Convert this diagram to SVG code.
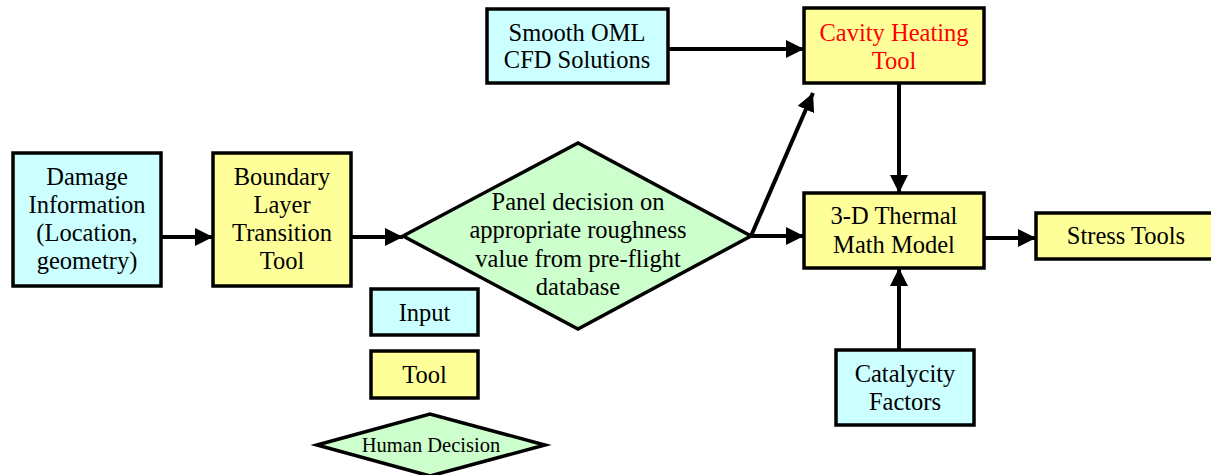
<svg xmlns="http://www.w3.org/2000/svg" width="1211" height="475" viewBox="0 0 1211 475">
<style>
.in{fill:#CCFFFF;stroke:#000;stroke-width:3.5}
.tl{fill:#FFFF99;stroke:#000;stroke-width:3.5}
.dc{fill:#CCFFCC;stroke:#000;stroke-width:3.5;stroke-linejoin:miter}
text{font-family:"Liberation Serif","Times New Roman",serif;font-size:24.5px;fill:#000;text-anchor:middle}
.red{fill:#FF0000}
.sm{font-size:20.5px}
.c{fill:none;stroke:#000;stroke-width:4;marker-end:url(#ah)}
</style>
<defs>
<marker id="ah" markerUnits="userSpaceOnUse" markerWidth="19" markerHeight="19" refX="18" refY="9" orient="auto">
<path d="M0,0 L18,9 L0,18 z" fill="#000"/>
</marker>
</defs>
<g id="connectors">
<line class="c" x1="162" y1="237" x2="213" y2="237"/>
<line class="c" x1="351" y1="237" x2="403" y2="237"/>
<line class="c" x1="751" y1="236" x2="804" y2="236"/>
<line class="c" x1="751" y1="236" x2="813" y2="93"/>
<line class="c" x1="668" y1="49" x2="804" y2="49"/>
<line class="c" x1="899" y1="83" x2="899" y2="193"/>
<line class="c" x1="984" y1="238" x2="1036" y2="238"/>
<line class="c" x1="899" y1="350" x2="899" y2="268"/>
</g>
<g id="damage">
<rect class="in" x="13" y="153" width="148" height="133"/>
<text x="87" y="185">Damage</text>
<text x="87" y="213">Information</text>
<text x="87" y="241">(Location,</text>
<text x="87" y="269">geometry)</text>
</g>
<g id="boundary">
<rect class="tl" x="213" y="153" width="138" height="133"/>
<text x="282" y="185">Boundary</text>
<text x="282" y="213">Layer</text>
<text x="282" y="241">Transition</text>
<text x="282" y="269">Tool</text>
</g>
<g id="panel">
<polygon class="dc" points="403,236 578,143 751,236 578,329"/>
<text x="578" y="210">Panel decision on</text>
<text x="578" y="238">appropriate roughness</text>
<text x="578" y="267">value from pre-flight</text>
<text x="578" y="295">database</text>
</g>
<g id="smooth">
<rect class="in" x="487" y="9" width="181" height="74"/>
<text x="577" y="41">Smooth OML</text>
<text x="577" y="68">CFD Solutions</text>
</g>
<g id="cavity">
<rect class="tl" x="804" y="8" width="180" height="75"/>
<text class="red" x="894" y="41">Cavity Heating</text>
<text class="red" x="894" y="69">Tool</text>
</g>
<g id="thermal">
<rect class="tl" x="804" y="193" width="180" height="75"/>
<text x="894" y="224">3-D Thermal</text>
<text x="894" y="253">Math Model</text>
</g>
<g id="stress">
<rect class="tl" x="1036" y="213" width="180" height="46"/>
<text x="1126" y="244">Stress Tools</text>
</g>
<g id="catalycity">
<rect class="in" x="836" y="350" width="138" height="75"/>
<text x="905" y="382">Catalycity</text>
<text x="905" y="410">Factors</text>
</g>
<g id="legend-input">
<rect class="in" x="371" y="289" width="107" height="46"/>
<text x="424.5" y="321">Input</text>
</g>
<g id="legend-tool">
<rect class="tl" x="371" y="351" width="107" height="47"/>
<text x="424.5" y="383">Tool</text>
</g>
<g id="legend-decision">
<polygon class="dc" points="317,445 430,414 545,445 430,476"/>
<text class="sm" x="431" y="452">Human Decision</text>
</g>
</svg>
